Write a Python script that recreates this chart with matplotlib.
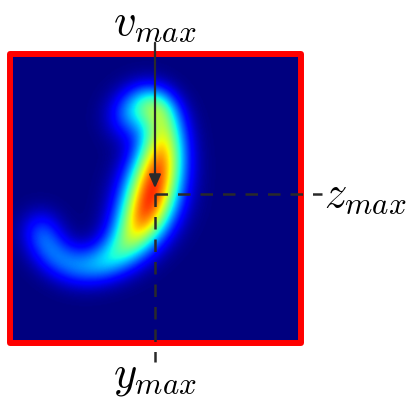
import numpy as np
import matplotlib
matplotlib.use("Agg")
import matplotlib.pyplot as plt
from matplotlib.patches import Rectangle

plt.rcParams['mathtext.fontset'] = 'cm'

# === blob spine: (x, y) in pixels, peak level, spread ===
spine_x = [40, 44, 52, 63, 76, 90, 104, 117, 128, 137, 144, 149, 153, 157, 161, 163, 164, 163, 158, 148, 137, 129]
spine_y = [228, 242, 254, 262, 267, 267, 263, 255, 244, 231, 217, 203, 188, 173, 158, 143, 128, 114, 104, 100, 106, 118]
spine_amp = [0.21, 0.20, 0.19, 0.19, 0.20, 0.22, 0.26, 0.33, 0.44, 0.58, 0.76, 0.86, 0.86, 0.80, 0.68, 0.56, 0.44, 0.34, 0.27, 0.25, 0.28, 0.33]
spine_sig = [14, 14, 14, 14, 14, 14, 14, 15, 16, 17, 18, 19, 19, 18, 17, 16, 15, 14, 13, 14, 15, 16]

# crosshair position (pixels)
peak_y, peak_z = 155, 194

# heat box (pixels)
box = (10, 54, 301, 343)

xs = np.linspace(box[0], box[2], 300)
ys = np.linspace(box[1], box[3], 300)
X, Y = np.meshgrid(xs, ys)
Z = np.zeros_like(X)
step = 14.0
for x0, y0, a, s in zip(spine_x, spine_y, spine_amp, spine_sig):
    w = a * step / (s * np.sqrt(2 * np.pi))
    Z += w * np.exp(-((X - x0) ** 2 + (Y - y0) ** 2) / (2 * s ** 2))
Z *= max(spine_amp) / Z.max()

fig = plt.figure(figsize=(4.16, 3.97), dpi=100)
ax = fig.add_axes([0, 0, 1, 1])
ax.set_xlim(0, 416)
ax.set_ylim(397, 0)
ax.axis('off')

ax.imshow(Z, cmap='jet', vmin=0, vmax=1, extent=(box[0], box[2], box[3], box[1]),
          aspect='auto', interpolation='bilinear')
ax.add_patch(Rectangle((box[0], box[1]), box[2] - box[0], box[3] - box[1],
                       fill=False, edgecolor='#ff0000', lw=4.3, joinstyle='round'))

dark = '#2a2a2a'
ax.plot([peak_y, 322], [peak_z, peak_z], color=dark, lw=1.8, dashes=(5, 4))
ax.plot([peak_y, peak_y], [peak_z, 362], color=dark, lw=1.8, dashes=(5, 4))
ax.annotate('', xy=(peak_y, peak_z - 3), xytext=(peak_y, 40),
            arrowprops=dict(arrowstyle='-|>,head_length=0.8,head_width=0.35', color=dark, lw=1.6))

ax.text(peak_y, 22, r'$v_{max}$', fontsize=32, ha='center', va='center')
ax.text(324, 194, r'$z_{max}$', fontsize=32, ha='left', va='center')
ax.text(peak_y, 376, r'$y_{max}$', fontsize=32, ha='center', va='center')

fig.savefig('out.png', dpi=100)
